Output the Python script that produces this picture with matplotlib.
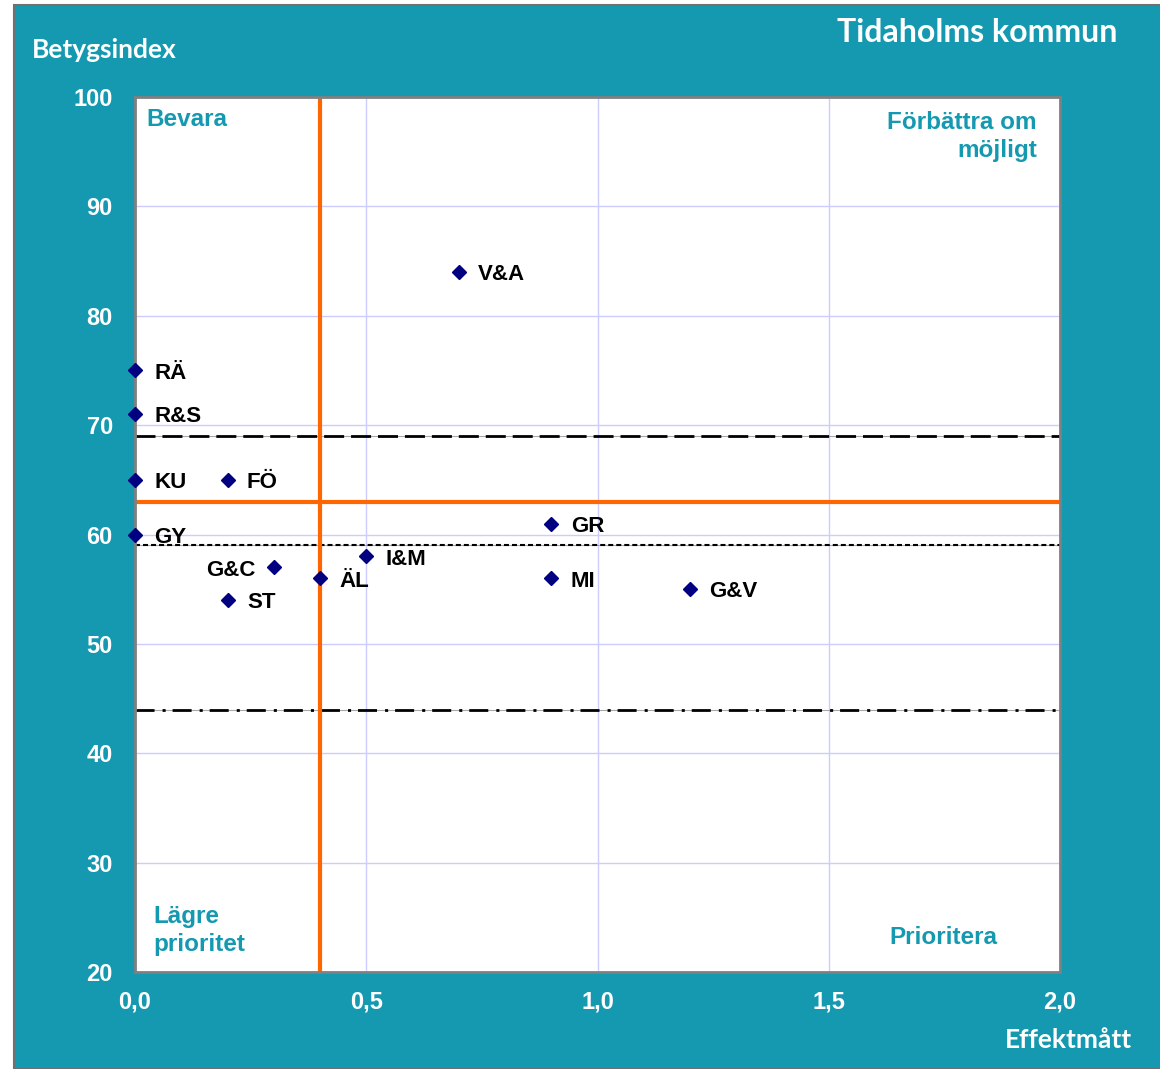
import matplotlib.pyplot as plt
from matplotlib.patches import Rectangle

# data
labels = ['V&A', 'RÄ', 'R&S', 'KU', 'FÖ', 'GY', 'G&C', 'ST', 'ÄL', 'I&M', 'GR', 'MI', 'G&V']
effekt = [0.7, 0.0, 0.0, 0.0, 0.2, 0.0, 0.3, 0.2, 0.4, 0.5, 0.9, 0.9, 1.2]
betyg = [84, 75, 71, 65, 65, 60, 57, 54, 56, 58, 61, 56, 55]
left_labels = ['G&C']

x_cut = 0.4
y_cut = 63
ref_long = 69
ref_short = 59
ref_dashdot = 44

xticks = [0.0, 0.5, 1.0, 1.5, 2.0]
yticks = [20, 30, 40, 50, 60, 70, 80, 90, 100]

teal = '#1499B0'
orange = '#FF6600'
navy = '#000080'
W, H = 1160, 1069

fig = plt.figure(figsize=(W / 100, H / 100), dpi=100)
fig.patch.set_facecolor('white')
bg = Rectangle((14 / W, 0), 1 - 14 / W + 0.01, 1 - 5 / H, transform=fig.transFigure,
               facecolor=teal, edgecolor='#707070', linewidth=1.5, zorder=-10)
fig.patches.append(bg)

ax = fig.add_axes([135 / W, 1 - 972 / H, 925 / W, 875 / H])
ax.set_facecolor('white')
ax.set_xlim(0, 2)
ax.set_ylim(20, 100)
ax.set_xticks(xticks)
ax.set_yticks(yticks)
ax.set_xticklabels([f'{t:.1f}'.replace('.', ',') for t in xticks])
ax.set_yticklabels([str(t) for t in yticks])
ax.grid(True, color='#CCCCFF', linewidth=1)
ax.set_axisbelow(True)
ax.tick_params(length=0, colors='white', labelsize=17)
ax.tick_params(axis='x', pad=13)
ax.tick_params(axis='y', pad=16)
for t in ax.get_xticklabels() + ax.get_yticklabels():
    t.set_fontfamily('Liberation Sans')
    t.set_fontweight('bold')
for s in ax.spines.values():
    s.set_color('#808080')
    s.set_linewidth(2)

# reference lines (thin grey line underneath, as in the original)
for yref in [ref_long, ref_short, ref_dashdot]:
    ax.axhline(yref, color='#A8A8A8', lw=0.8)
ax.axhline(ref_long, color='black', lw=2, dashes=(7.2, 2.5))
ax.axhline(ref_short, color='black', lw=1.5, dashes=(2.4, 1.45))
ax.axhline(ref_dashdot, color='black', lw=2, dashes=(6.85, 2.9, 1.1, 2.5))
ax.axvline(x_cut, color=orange, lw=3)
ax.axhline(y_cut, color=orange, lw=3)

ax.plot(effekt, betyg, linestyle='none', marker='D', markersize=7, color=navy, clip_on=False, zorder=5)
for lab, x, y in zip(labels, effekt, betyg):
    if lab in left_labels:
        ax.annotate(lab, (x, y), xytext=(-13, -2), textcoords='offset points', ha='right', va='center',
                    fontsize=16, fontweight='bold', family='Liberation Sans', color='black')
    else:
        ax.annotate(lab, (x, y), xytext=(14, -2), textcoords='offset points', ha='left', va='center',
                    fontsize=16, fontweight='bold', family='Liberation Sans', color='black')

qkw = dict(fontsize=17.5, fontweight='bold', family='Liberation Sans', color=teal)
ax.text(0.024, 97.9, 'Bevara', ha='left', va='center', **qkw)
ax.text(1.95, 96.4, 'Förbättra om\nmöjligt', ha='right', va='center', multialignment='right',
        linespacing=1.31, **qkw)
ax.text(0.039, 23.8, 'Lägre\nprioritet', ha='left', va='center', linespacing=1.23, **qkw)
ax.text(1.747, 23.2, 'Prioritera', ha='center', va='center', **qkw)

tkw = dict(color='white', fontweight='bold', family='Lato')
fig.text(32 / W, 1 - 50 / H, 'Betygsindex', ha='left', va='center', fontsize=19, **tkw)
fig.text(1117 / W, 1 - 33 / H, 'Tidaholms kommun', ha='right', va='center', fontsize=23, **tkw)
fig.text(1132 / W, 1 - 1040 / H, 'Effektmått', ha='right', va='center', fontsize=19, **tkw)

fig.savefig('out.png', dpi=100)
